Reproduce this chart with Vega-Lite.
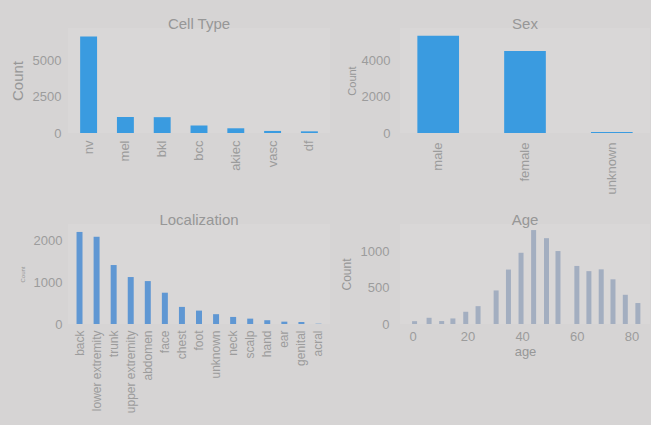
{
  "$schema": "https://vega.github.io/schema/vega-lite/v6.json",
  "background": "#d6d4d4",
  "padding": {"left": 10, "top": 17, "right": 1, "bottom": 12},
  "columns": 2,
  "bounds": "flush",
  "align": "each",
  "spacing": {"row": 91, "column": 70},
  "config": {
    "view": {"stroke": null, "fill": "#d9d7d7"},
    "font": "Liberation Sans",
    "axis": {"domain": false, "ticks": false, "grid": false, "labelColor": "#9c9c9c", "titleColor": "#979797", "labelFontSize": 13, "titleFontWeight": "normal", "labelFont": "Liberation Sans", "titleFont": "Liberation Sans"},
    "title": {"color": "#979797", "fontSize": 15, "fontWeight": "normal", "offset": -4, "font": "Liberation Sans"}
  },
  "datasets": {
    "celltype": [
      {"cell_type": "nv", "count": 6705},
      {"cell_type": "mel", "count": 1113},
      {"cell_type": "bkl", "count": 1099},
      {"cell_type": "bcc", "count": 514},
      {"cell_type": "akiec", "count": 327},
      {"cell_type": "vasc", "count": 142},
      {"cell_type": "df", "count": 115}
    ],
    "sex": [
      {"sex": "male", "count": 5406},
      {"sex": "female", "count": 4552},
      {"sex": "unknown", "count": 57}
    ],
    "loc": [
      {"localization": "back", "count": 2192},
      {"localization": "lower extremity", "count": 2077},
      {"localization": "trunk", "count": 1404},
      {"localization": "upper extremity", "count": 1118},
      {"localization": "abdomen", "count": 1022},
      {"localization": "face", "count": 745},
      {"localization": "chest", "count": 407},
      {"localization": "foot", "count": 319},
      {"localization": "unknown", "count": 234},
      {"localization": "neck", "count": 168},
      {"localization": "scalp", "count": 128},
      {"localization": "hand", "count": 90},
      {"localization": "ear", "count": 56},
      {"localization": "genital", "count": 48},
      {"localization": "acral", "count": 7}
    ],
    "age": [
      {"age": 0.7, "count": 39},
      {"age": 6.0, "count": 86},
      {"age": 10.6, "count": 41},
      {"age": 14.7, "count": 77},
      {"age": 19.4, "count": 169},
      {"age": 23.9, "count": 247},
      {"age": 30.5, "count": 464},
      {"age": 35.0, "count": 753},
      {"age": 39.6, "count": 985},
      {"age": 44.2, "count": 1299},
      {"age": 48.9, "count": 1187},
      {"age": 53.1, "count": 1009},
      {"age": 60.0, "count": 803},
      {"age": 64.4, "count": 731},
      {"age": 68.9, "count": 756},
      {"age": 73.2, "count": 618},
      {"age": 77.7, "count": 404},
      {"age": 82.3, "count": 290}
    ]
  },
  "concat": [
    {
      "title": "Cell Type",
      "width": 262,
      "height": 105,
      "data": {"name": "celltype"},
      "mark": {"type": "bar", "color": "#3a9be0"},
      "encoding": {
        "x": {"field": "cell_type", "type": "nominal", "sort": null, "scale": {"paddingInner": 0.54, "paddingOuter": 0.33},
          "axis": {"title": null, "labelAngle": -90, "labelAlign": "right", "labelBaseline": "middle", "labelPadding": 7}},
        "y": {"field": "count", "type": "quantitative", "scale": {"domain": [0, 7290], "nice": false},
          "axis": {"title": "Count", "format": "d", "titleFontSize": 15, "values": [0, 2500, 5000], "labelPadding": 7, "minExtent": 36, "maxExtent": 36, "titlePadding": 7}}
      }
    },
    {
      "title": "Sex",
      "width": 250,
      "height": 105,
      "data": {"name": "sex"},
      "mark": {"type": "bar", "color": "#3a9be0"},
      "encoding": {
        "x": {"field": "sex", "type": "nominal", "sort": null, "scale": {"paddingInner": 0.52, "paddingOuter": 0.2},
          "axis": {"title": null, "labelAngle": -90, "labelAlign": "right", "labelBaseline": "middle", "labelPadding": 9}},
        "y": {"field": "count", "type": "quantitative", "scale": {"domain": [0, 5833], "nice": false},
          "axis": {"title": "Count", "format": "d", "titleFontSize": 11, "values": [0, 2000, 4000], "labelPadding": 10, "minExtent": 40, "maxExtent": 40, "titlePadding": 3}}
      }
    },
    {
      "title": "Localization",
      "width": 262,
      "height": 100,
      "data": {"name": "loc"},
      "mark": {"type": "bar", "color": "#5f97d3"},
      "encoding": {
        "x": {"field": "localization", "type": "nominal", "sort": null, "scale": {"paddingInner": 0.65, "paddingOuter": 0.5},
          "axis": {"title": null, "labelAngle": -90, "labelAlign": "right", "labelBaseline": "middle", "labelPadding": 6, "labelFontSize": 12}},
        "y": {"field": "count", "type": "quantitative", "scale": {"domain": [0, 2381], "nice": false},
          "axis": {"title": "Count", "format": "d", "titleFontSize": 6, "values": [0, 1000, 2000], "labelPadding": 6, "minExtent": 35, "maxExtent": 35, "titlePadding": 8}}
      }
    },
    {
      "title": "Age",
      "width": 250,
      "height": 100,
      "data": {"name": "age"},
      "mark": {"type": "bar", "color": "#a3aec0", "size": 5},
      "encoding": {
        "x": {"field": "age", "type": "quantitative", "scale": {"domain": [-2.8, 84.9], "nice": false, "zero": false},
          "axis": {"title": "age", "format": "d", "titleFontSize": 13, "values": [0, 20, 40, 60, 80], "labelPadding": 6, "titlePadding": 2, "labelFlush": false}},
        "y": {"field": "count", "type": "quantitative", "scale": {"domain": [0, 1383], "nice": false},
          "axis": {"title": "Count", "format": "d", "titleFontSize": 12, "values": [0, 500, 1000], "labelPadding": 11, "minExtent": 40, "maxExtent": 40, "titlePadding": 7}}
      }
    }
  ]
}
